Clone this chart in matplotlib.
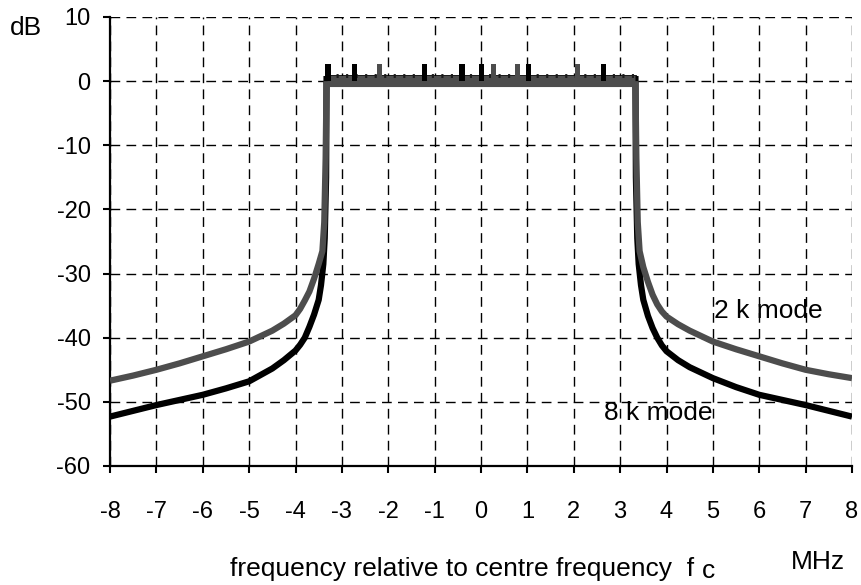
import matplotlib
matplotlib.use("Agg")
import matplotlib.pyplot as plt

plt.rcParams['font.family'] = ['Liberation Sans', 'DejaVu Sans']

# ---- data ----
# 2k mode (grey) spectrum skirts
f_2k_left = [-8, -7.5, -7, -6.5, -6, -5.5, -5, -4.5, -4.25, -4, -3.9, -3.8, -3.7, -3.6,
             -3.5, -3.42, -3.38, -3.35, -3.33]
db_2k_left = [-46.7, -45.9, -45.0, -44.0, -42.9, -41.8, -40.6, -38.9, -37.8, -36.5, -35.5,
              -34.2, -32.8, -30.8, -28.5, -26.5, -22.0, -12.0, 0.0]
f_2k_right = [3.33, 3.35, 3.38, 3.42, 3.5, 3.6, 3.7, 3.8, 3.9, 4, 4.25, 4.5, 5, 5.5, 6,
              6.5, 7, 7.5, 8]
db_2k_right = [0.0, -12.0, -22.0, -26.5, -29.0, -31.3, -33.3, -34.8, -35.9, -36.7, -37.9,
               -38.9, -40.6, -41.8, -42.9, -44.0, -45.0, -45.7, -46.3]
inband_2k = 0.1

# 8k mode (black) spectrum skirts
f_8k_left = [-8, -7.5, -7, -6.5, -6, -5.5, -5, -4.5, -4.25, -4, -3.9, -3.8, -3.7, -3.6,
             -3.5, -3.45, -3.4, -3.37, -3.34, -3.33]
db_8k_left = [-52.3, -51.4, -50.5, -49.7, -48.9, -47.9, -46.8, -44.8, -43.5, -42.0, -41.1,
              -40.0, -38.3, -36.4, -34.1, -31.8, -28.5, -24.5, -15.0, 0.8]
f_8k_right = [3.33, 3.34, 3.37, 3.4, 3.45, 3.5, 3.6, 3.7, 3.8, 3.9, 4, 4.25, 4.5, 5, 5.5,
              6, 6.5, 7, 7.5, 8]
db_8k_right = [0.8, -15.0, -24.5, -28.5, -31.8, -34.1, -36.6, -38.5, -40.0, -41.2, -42.1,
               -43.5, -44.6, -46.3, -47.7, -48.9, -49.7, -50.5, -51.4, -52.3]
inband_8k = 0.8

# continual pilot spikes (MHz) and their peak level (dB)
pilot_f_8k = [-3.30, -2.73, -1.21, -0.41, 0.02, 1.02, 2.65]
pilot_f_2k = [-2.19, 0.26, 0.78, 2.08]
pilot_level = 2.65

x_ticks = list(range(-8, 9))
y_ticks = list(range(-60, 11, 10))

grey = '#4d4d4d'
FS_TICK = 17
FS_LAB = 19

W, H = 861, 585
fig = plt.figure(figsize=(W / 100, H / 100), dpi=100)
L, R, T, B = 110, 852, 17, 466
ax = fig.add_axes([L / W, 1 - B / H, (R - L) / W, (B - T) / H])

# grid
for xv in x_ticks:
    ax.axvline(xv, color='black', lw=1.0, ls=(0, (7, 4.5)), zorder=0)
for yv in y_ticks:
    ax.axhline(yv, color='black', lw=1.0, ls=(0, (7, 4.5)), zorder=0)

lw = 4.5
# 8k (black) skirts + in-band
ax.plot(f_8k_left, db_8k_left, color='black', lw=lw, zorder=3, solid_capstyle='butt')
ax.plot(f_8k_right, db_8k_right, color='black', lw=lw, zorder=3, solid_capstyle='butt')
ax.plot([f_8k_left[-1], f_8k_right[0]], [inband_8k, inband_8k], color='black', lw=2.0, zorder=3)

# 2k (grey) skirts + in-band
ax.plot(f_2k_left, db_2k_left, color=grey, lw=lw, zorder=4, solid_capstyle='butt')
ax.plot(f_2k_right, db_2k_right, color=grey, lw=lw, zorder=4, solid_capstyle='butt')
ax.plot([f_2k_left[-1], f_2k_right[0]], [inband_2k, inband_2k], color=grey, lw=8, zorder=4,
        solid_capstyle='butt')
# comb texture on top of the in-band level
ax.plot([f_2k_left[-1], f_2k_right[0]], [inband_8k, inband_8k], color='#1a1a1a', lw=2.8,
        ls=(0, (0.55, 1.9)), zorder=5)

# pilots
ax.bar(pilot_f_8k, pilot_level, width=0.11, bottom=0, color='black', zorder=5)
ax.bar(pilot_f_2k, pilot_level, width=0.11, bottom=0, color=grey, zorder=5)

# annotations
ax.text(5.03, -35.9, '2 k mode', fontsize=FS_LAB, va='center', ha='left')
ax.text(2.65, -51.7, '8 k mode', fontsize=FS_LAB, va='center', ha='left')

ax.set_xlim(-8, 8)
ax.set_ylim(-60, 10)
ax.set_xticks(x_ticks)
ax.set_yticks(y_ticks)
ax.set_xticklabels([str(v) for v in x_ticks], fontsize=FS_TICK)
ax.set_yticklabels([str(v) for v in y_ticks], fontsize=FS_TICK)
ax.tick_params(axis='both', direction='out', length=5, width=1.5, color='black')
ax.tick_params(axis='x', pad=20)
ax.tick_params(axis='y', pad=9)

for s in ['top', 'right']:
    ax.spines[s].set_visible(False)
for s in ['left', 'bottom']:
    ax.spines[s].set_linewidth(1.6)
    ax.spines[s].set_color('black')
ax.set_facecolor('none')

fig.text(230 / W, 1 - 576 / H, 'frequency relative to centre frequency  f', fontsize=FS_LAB,
         ha='left', va='baseline')
fig.text(702 / W, 2 / H, 'c', fontsize=FS_LAB, ha='left', va='bottom')
fig.text(791 / W, 1 - 569 / H, 'MHz', fontsize=FS_LAB, ha='left', va='baseline')
fig.text(10 / W, 1 - 35 / H, 'dB', fontsize=FS_LAB, ha='left', va='baseline')

fig.savefig('out.png', dpi=100)
